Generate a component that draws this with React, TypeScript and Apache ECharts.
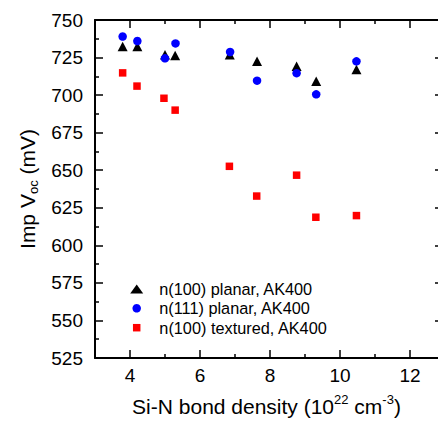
import React, { useEffect, useRef } from "react";
import * as echarts from "echarts";

const xPlanar100 = [3.79, 4.21, 5.0, 5.29, 6.85, 7.63, 8.76, 9.32, 10.47];
const vocPlanar100 = [732.4, 732.4, 726.9, 726.3, 726.9, 722.5, 719.2, 709.3, 717.0];
const xPlanar111 = [3.79, 4.21, 5.0, 5.3, 6.86, 7.63, 8.76, 9.32, 10.47];
const vocPlanar111 = [739.0, 736.0, 724.5, 734.4, 728.7, 709.6, 714.6, 700.5, 722.5];
const xTextured = [3.79, 4.2, 4.97, 5.29, 6.84, 7.62, 8.76, 9.31, 10.47];
const vocTextured = [714.8, 706.0, 697.9, 690.0, 652.6, 632.8, 646.7, 618.7, 619.8];

const seriesNames = ["n(100) planar, AK400", "n(111) planar, AK400", "n(100) textured, AK400"];
const xMajorTicks = [4, 6, 8, 10, 12];
const xMinorTicks = [5, 7, 9, 11];

const FONT = "'Liberation Sans', Arial, sans-serif";

function pairs(xs: number[], ys: number[]) {
  return xs.map((x, i) => [x, ys[i]]);
}

export default function App() {
  const ref = useRef<HTMLDivElement>(null);
  useEffect(() => {
    document.body.style.margin = "0";
    const chart = echarts.init(ref.current!, null, { renderer: "svg" });
    const xBase = {
      type: "value",
      min: 3,
      max: 12.8,
      interval: 1,
      splitLine: { show: false },
      axisLine: { show: true, onZero: false, lineStyle: { color: "#000", width: 2 } },
    };
    const axisTickMajor = { show: true, inside: true, length: 8, customValues: xMajorTicks, lineStyle: { color: "#000", width: 1.5 } };
    const axisTickMinor = { show: true, inside: true, length: 4, customValues: xMinorTicks, lineStyle: { color: "#000", width: 1.5 } };
    const legendCommon = {
      orient: "vertical",
      padding: 0,
      selectedMode: false,
      textStyle: { fontFamily: FONT, fontSize: 16.3, color: "#000", lineHeight: 18 },
    };
    chart.setOption({
      animation: false,
      backgroundColor: "#fff",
      grid: { left: 95, top: 20, right: 0, bottom: 63 },
      xAxis: [
        {
          ...xBase,
          position: "bottom",
          axisTick: axisTickMajor,
          axisLabel: { customValues: xMajorTicks, margin: 8, fontFamily: FONT, fontSize: 19, color: "#000" },
          name: "Si-N bond density (10{sup|22} cm{sup|-3})",
          nameLocation: "middle",
          nameGap: 35,
          nameTextStyle: {
            fontFamily: FONT,
            fontSize: 21,
            color: "#000",
            lineHeight: 26,
            rich: { sup: { fontFamily: FONT, fontSize: 13, lineHeight: 13, verticalAlign: "top", color: "#000" } },
          },
        },
        { ...xBase, position: "top", axisTick: axisTickMajor, axisLabel: { show: false } },
        { ...xBase, position: "bottom", axisLine: { show: false }, axisTick: axisTickMinor, axisLabel: { show: false } },
        { ...xBase, position: "top", axisLine: { show: false }, axisTick: axisTickMinor, axisLabel: { show: false } },
      ],
      yAxis: [
        {
          type: "value",
          min: 525,
          max: 750,
          interval: 25,
          position: "left",
          splitLine: { show: false },
          axisLine: { show: true, onZero: false, lineStyle: { color: "#000", width: 2 } },
          axisTick: { show: true, inside: true, length: 8, lineStyle: { color: "#000", width: 1.5 } },
          minorTick: { show: true, splitNumber: 2, length: 4, lineStyle: { color: "#000", width: 1.5 } },
          minorSplitLine: { show: false },
          axisLabel: { margin: 12, fontFamily: FONT, fontSize: 19, color: "#000" },
          name: "Imp V{sub|oc} (mV)",
          nameLocation: "middle",
          nameGap: 55,
          nameTextStyle: {
            fontFamily: FONT,
            fontSize: 21,
            color: "#000",
            lineHeight: 26,
            rich: { sub: { fontFamily: FONT, fontSize: 13, lineHeight: 13, verticalAlign: "bottom", color: "#000" } },
          },
        },
        {
          type: "value",
          min: 525,
          max: 750,
          interval: 25,
          position: "right",
          splitLine: { show: false },
          axisLine: { show: false },
          axisTick: { show: true, inside: true, length: 3, lineStyle: { color: "#000", width: 1.5 } },
          minorTick: { show: false },
          axisLabel: { show: false },
        },
      ],
      legend: [
        { ...legendCommon, left: 130.2, top: 278, itemWidth: 13, itemHeight: 9, data: [seriesNames[0]], textStyle: { ...legendCommon.textStyle, padding: [4, 0, 0, 11] } },
        { ...legendCommon, left: 132.45, top: 297.3, itemWidth: 8.5, itemHeight: 8.5, data: [seriesNames[1]], textStyle: { ...legendCommon.textStyle, padding: [4, 0, 0, 13.3] } },
        { ...legendCommon, left: 132.95, top: 316.7, itemWidth: 7.5, itemHeight: 7.5, data: [seriesNames[2]], textStyle: { ...legendCommon.textStyle, padding: [4, 0, 0, 13.9] } },
      ],
      series: [
        {
          name: seriesNames[0],
          type: "scatter",
          symbol: "triangle",
          symbolSize: [10, 9.5],
          itemStyle: { color: "#000", opacity: 1 },
          data: pairs(xPlanar100, vocPlanar100),
        },
        {
          name: seriesNames[1],
          type: "scatter",
          symbol: "circle",
          symbolSize: 8.5,
          itemStyle: { color: "#0000ff", opacity: 1 },
          data: pairs(xPlanar111, vocPlanar111),
        },
        {
          name: seriesNames[2],
          type: "scatter",
          symbol: "rect",
          symbolSize: 7.5,
          itemStyle: { color: "#ff0000", opacity: 1 },
          data: pairs(xTextured, vocTextured),
        },
      ],
    });
    return () => chart.dispose();
  }, []);
  return <div ref={ref} style={{ position: "absolute", left: 0, top: 0, width: 438, height: 424 }} />;
}
